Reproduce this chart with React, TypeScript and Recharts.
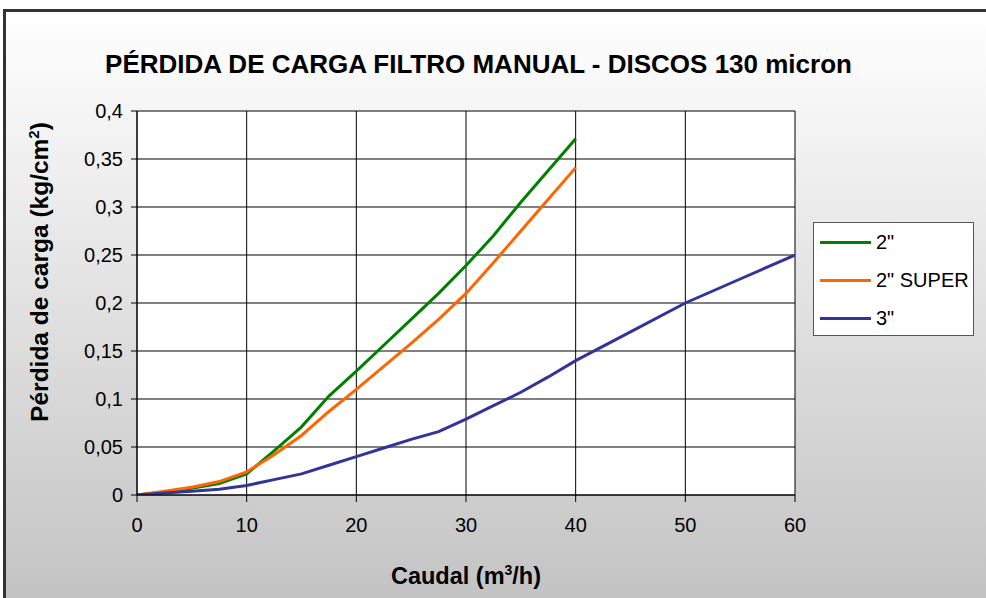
import React from 'react';
import { LineChart, Line, XAxis, YAxis, CartesianGrid } from 'recharts';

const xTicks = [0, 10, 20, 30, 40, 50, 60];
const yTicks = [0, 0.05, 0.1, 0.15, 0.2, 0.25, 0.3, 0.35, 0.4];

const series2 = [
  { x: 0, y: 0 }, { x: 2.5, y: 0.003 }, { x: 5, y: 0.007 }, { x: 7.5, y: 0.012 },
  { x: 10, y: 0.022 }, { x: 12.5, y: 0.046 }, { x: 15, y: 0.071 }, { x: 17.5, y: 0.103 },
  { x: 20, y: 0.129 }, { x: 22.5, y: 0.156 }, { x: 25, y: 0.183 }, { x: 27.5, y: 0.21 },
  { x: 30, y: 0.239 }, { x: 32.5, y: 0.27 }, { x: 35, y: 0.305 }, { x: 37.5, y: 0.338 },
  { x: 40, y: 0.371 },
];

const series2Super = [
  { x: 0, y: 0 }, { x: 2.5, y: 0.004 }, { x: 5, y: 0.008 }, { x: 7.5, y: 0.014 },
  { x: 10, y: 0.024 }, { x: 12.5, y: 0.042 }, { x: 15, y: 0.062 }, { x: 17.5, y: 0.087 },
  { x: 20, y: 0.11 }, { x: 22.5, y: 0.134 }, { x: 25, y: 0.158 }, { x: 27.5, y: 0.183 },
  { x: 30, y: 0.21 }, { x: 32.5, y: 0.242 }, { x: 35, y: 0.275 }, { x: 37.5, y: 0.308 },
  { x: 40, y: 0.341 },
];

const series3 = [
  { x: 0, y: 0 }, { x: 2.5, y: 0.002 }, { x: 5, y: 0.004 }, { x: 7.5, y: 0.006 },
  { x: 10, y: 0.01 }, { x: 12.5, y: 0.016 }, { x: 15, y: 0.022 }, { x: 17.5, y: 0.031 },
  { x: 20, y: 0.04 }, { x: 22.5, y: 0.049 }, { x: 25, y: 0.058 }, { x: 27.5, y: 0.066 },
  { x: 30, y: 0.079 }, { x: 32.5, y: 0.093 }, { x: 35, y: 0.107 }, { x: 37.5, y: 0.123 },
  { x: 40, y: 0.14 }, { x: 45, y: 0.17 }, { x: 50, y: 0.2 }, { x: 55, y: 0.225 },
  { x: 60, y: 0.25 },
];

const seriesNames = ['2"', '2" SUPER', '3"'];
const seriesColors = ['#008000', '#ff6600', '#333399'];

const FONT = '"Liberation Sans", Arial, sans-serif';

const fmt = (v: number) => String(v).replace('.', ',');

const LegendBox = () => (
  <div
    style={{
      position: 'absolute',
      left: 813,
      top: 222,
      width: 161,
      height: 114,
      border: '1px solid #555',
      background: '#fff',
      boxSizing: 'border-box',
      fontFamily: FONT,
      fontSize: 20,
      color: '#000',
    }}
  >
    {seriesNames.map((n, i) => (
      <div key={n} style={{ display: 'flex', alignItems: 'center', height: 38 }}>
        <div style={{ width: 51, height: 3, background: seriesColors[i], marginLeft: 6, marginRight: 5 }} />
        <span style={{ lineHeight: '20px' }}>{n}</span>
      </div>
    ))}
  </div>
);

export default function App() {
  return (
    <div style={{ position: 'absolute', left: 0, top: 0, width: 986, height: 598, overflow: 'hidden', background: '#fff' }}>
      <div
        style={{
          position: 'absolute',
          left: 3,
          top: 9,
          width: 1000,
          height: 620,
          borderLeft: '3px solid #333',
          borderTop: '3px solid #333',
          background: 'linear-gradient(to bottom, #ffffff 0%, #c0c0c0 100%)',
        }}
      />
      <div style={{ position: 'absolute', left: 0, top: 0 }}>
        <LineChart width={986} height={598} margin={{ top: 111, right: 191, bottom: 0, left: 0 }}>
          <CartesianGrid stroke="#000" strokeWidth={1} fill="#fff" />
          <XAxis
            type="number"
            dataKey="x"
            domain={[0, 60]}
            ticks={xTicks}
            height={103}
            allowDataOverflow
            stroke="#000"
            tickSize={7}
            tick={{ fill: '#000', fontSize: 20, fontFamily: FONT }}
            tickMargin={16}
          />
          <YAxis
            type="number"
            dataKey="y"
            domain={[0, 0.4]}
            ticks={yTicks}
            width={137}
            allowDataOverflow
            stroke="#000"
            tickSize={6}
            tickFormatter={fmt}
            tick={{ fill: '#000', fontSize: 20, fontFamily: FONT }}
            tickMargin={8}
          />
          <Line data={series2} dataKey="y" name={seriesNames[0]} stroke={seriesColors[0]} strokeWidth={3} dot={false} isAnimationActive={false} type="linear" />
          <Line data={series2Super} dataKey="y" name={seriesNames[1]} stroke={seriesColors[1]} strokeWidth={3} dot={false} isAnimationActive={false} type="linear" />
          <Line data={series3} dataKey="y" name={seriesNames[2]} stroke={seriesColors[2]} strokeWidth={3} dot={false} isAnimationActive={false} type="linear" />
        </LineChart>
      </div>
      <LegendBox />
      <div
        style={{
          position: 'absolute',
          left: 0,
          width: 957,
          top: 49,
          lineHeight: '30px',
          textAlign: 'center',
          fontFamily: FONT,
          fontWeight: 'bold',
          fontSize: 26,
          color: '#000',
        }}
      >
        PÉRDIDA DE CARGA FILTRO MANUAL - DISCOS 130 micron
      </div>
      <div
        style={{
          position: 'absolute',
          left: 266,
          width: 400,
          top: 562,
          lineHeight: '28px',
          textAlign: 'center',
          fontFamily: FONT,
          fontWeight: 'bold',
          fontSize: 23.5,
          color: '#000',
        }}
      >
        Caudal (m<sup style={{ fontSize: 14, lineHeight: 0 }}>3</sup>/h)
      </div>
      <div
        style={{
          position: 'absolute',
          left: 40 - 200,
          top: 272 - 14,
          width: 400,
          height: 28,
          lineHeight: '28px',
          textAlign: 'center',
          transform: 'rotate(-90deg)',
          transformOrigin: '200px 14px',
          fontFamily: FONT,
          fontWeight: 'bold',
          fontSize: 24.5,
          color: '#000',
          whiteSpace: 'nowrap',
        }}
      >
        Pérdida de carga (kg/cm<sup style={{ fontSize: 15, lineHeight: 0 }}>2</sup>)
      </div>
    </div>
  );
}
